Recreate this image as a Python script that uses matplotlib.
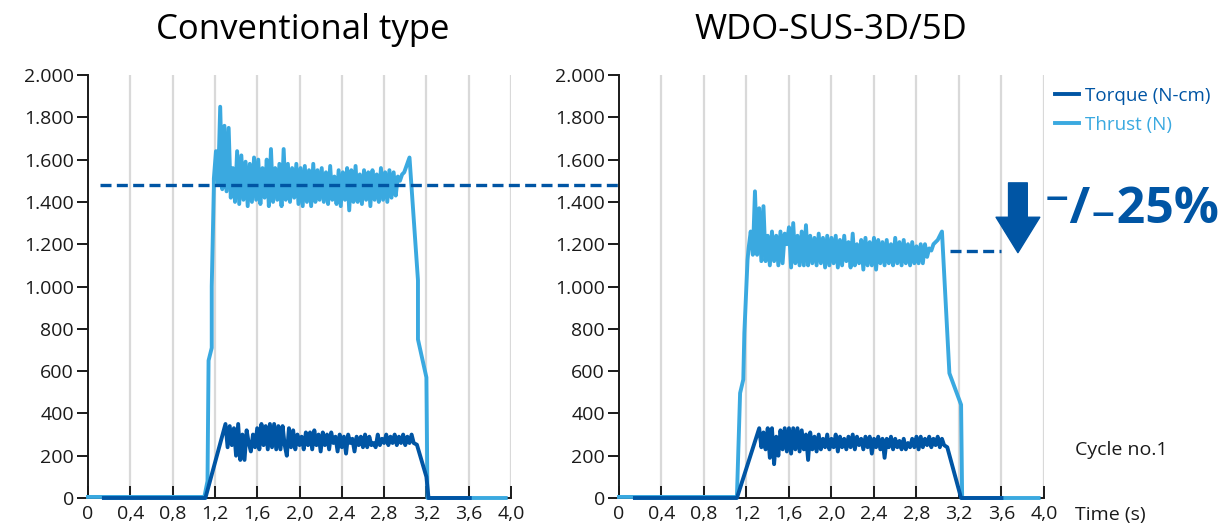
import numpy as np
import matplotlib
matplotlib.use("Agg")
from matplotlib import pyplot as plt
from matplotlib.lines import Line2D

plt.rcParams['font.family'] = ['Open Sans', 'DejaVu Sans']

DARK = '#0055a4'
LIGHT = '#3aa9e0'
GRID = '#d9d9d9'

# x ticks / y ticks
x_ticks = [0, 0.4, 0.8, 1.2, 1.6, 2.0, 2.4, 2.8, 3.2, 3.6, 4.0]
x_labels = ['0', '0,4', '0,8', '1,2', '1,6', '2,0', '2,4', '2,8', '3,2', '3,6', '4,0']
y_ticks = [0, 200, 400, 600, 800, 1000, 1200, 1400, 1600, 1800, 2000]
y_labels = ['0', '200', '400', '600', '800', '1.000', '1.200', '1.400', '1.600', '1.800', '2.000']

# ---- Conventional type ----
conv_thrust_t = [0.0, 1.10, 1.13, 1.14, 1.17, 1.17, 1.19]
conv_thrust_v = [5, 5, 80, 650, 710, 1000, 1470]
conv_thrust_plateau = [
    1510, 1640, 1480, 1850, 1460, 1760, 1450, 1750, 1420, 1560,
    1400, 1640, 1390, 1620, 1410, 1590, 1380, 1580, 1400, 1610,
    1410, 1600, 1390, 1560, 1420, 1600, 1380, 1650, 1400, 1560,
    1410, 1580, 1380, 1650, 1410, 1580, 1400, 1560, 1420, 1580,
    1390, 1560, 1380, 1570, 1400, 1550, 1380, 1580, 1400, 1550,
    1410, 1560, 1400, 1540, 1390, 1570, 1410, 1520, 1390, 1550,
    1380, 1540, 1410, 1560, 1360, 1550, 1400, 1570, 1400, 1530,
    1390, 1550, 1410, 1540, 1380, 1550, 1410, 1530, 1400, 1560,
    1410, 1540, 1400, 1550, 1420, 1540, 1430, 1520, 1500, 1530,
    1540]
conv_thrust_end_t = [3.04, 3.12, 3.12, 3.20, 3.21, 3.95]
conv_thrust_end_v = [1610, 1030, 750, 570, 0, 0]

conv_torque_t = [0.15, 1.11]
conv_torque_v = [0, 0]
conv_torque_plateau = [
    350, 240, 340, 250, 330, 200, 350, 180, 300, 180,
    320, 260, 220, 300, 240, 330, 230, 350, 250, 340,
    230, 350, 240, 350, 230, 340, 230, 340, 250, 200,
    330, 240, 320, 230, 300, 250, 290, 230, 310, 250,
    310, 230, 320, 250, 300, 220, 310, 250, 300, 230,
    310, 260, 290, 220, 300, 240, 290, 210, 300, 260,
    280, 220, 290, 250, 290, 240, 300, 240, 290, 250,
    260, 240, 300, 250, 280, 260, 300, 250, 290, 260,
    300, 250, 290, 260, 300, 250, 290, 260, 300, 260]
conv_torque_end_t = [3.11, 3.20, 3.22, 3.61]
conv_torque_end_v = [252, 100, 0, 0]

# ---- WDO-SUS-3D/5D ----
wdo_thrust_t = [0.0, 1.11, 1.14, 1.17, 1.18, 1.21]
wdo_thrust_v = [5, 5, 496, 560, 780, 1126]
wdo_thrust_plateau = [
    1180, 1260, 1150, 1450, 1150, 1370, 1120, 1380, 1120, 1240,
    1100, 1260, 1120, 1240, 1100, 1260, 1110, 1250, 1200, 1280,
    1090, 1300, 1110, 1240, 1100, 1260, 1100, 1290, 1100, 1240,
    1110, 1230, 1100, 1250, 1110, 1230, 1090, 1240, 1100, 1230,
    1110, 1240, 1090, 1220, 1100, 1240, 1120, 1210, 1090, 1250,
    1100, 1200, 1110, 1220, 1080, 1230, 1100, 1210, 1100, 1230,
    1080, 1220, 1110, 1210, 1100, 1220, 1110, 1200, 1100, 1230,
    1110, 1210, 1100, 1220, 1110, 1200, 1100, 1210, 1110, 1190,
    1110, 1200, 1110, 1200, 1140, 1180, 1170, 1200, 1210, 1220]
wdo_thrust_end_t = [3.04, 3.11, 3.22, 3.23, 3.95]
wdo_thrust_end_v = [1260, 590, 441, 0, 0]

wdo_torque_t = [0.15, 1.11]
wdo_torque_v = [0, 0]
wdo_torque_plateau = [
    330, 240, 310, 230, 330, 190, 330, 160, 290, 200,
    320, 230, 330, 220, 330, 210, 330, 230, 330, 220,
    320, 230, 300, 180, 310, 230, 290, 220, 300, 230,
    280, 240, 300, 230, 280, 240, 300, 220, 290, 240,
    280, 230, 290, 240, 300, 230, 290, 250, 280, 230,
    290, 240, 290, 210, 280, 240, 290, 230, 280, 190,
    280, 240, 290, 230, 280, 240, 270, 230, 280, 230,
    260, 240, 280, 240, 290, 230, 290, 240, 280, 250,
    290, 240, 280, 250, 290, 240, 280, 250]
wdo_torque_end_t = [3.09, 3.22, 3.60]
wdo_torque_end_v = [240, 0, 0]

conv_level = 1480
wdo_level = 1170


def series(t0, v0, start, step, plateau, t1, v1):
    tp = start + step * np.arange(len(plateau))
    return (np.concatenate([t0, tp, t1]), np.concatenate([v0, plateau, v1]))


fig = plt.figure(figsize=(12.24, 5.29), dpi=100)
ax1 = fig.add_axes([0.0719, 0.0586, 0.3456, 0.7996])
ax2 = fig.add_axes([0.5057, 0.0586, 0.3472, 0.7996])

panels = [
    (ax1, series(conv_thrust_t, conv_thrust_v, 1.19, 0.02, conv_thrust_plateau, conv_thrust_end_t, conv_thrust_end_v),
     series(conv_torque_t, conv_torque_v, 1.30, 0.02, conv_torque_plateau, conv_torque_end_t, conv_torque_end_v)),
    (ax2, series(wdo_thrust_t, wdo_thrust_v, 1.22, 0.02, wdo_thrust_plateau, wdo_thrust_end_t, wdo_thrust_end_v),
     series(wdo_torque_t, wdo_torque_v, 1.32, 0.02, wdo_torque_plateau, wdo_torque_end_t, wdo_torque_end_v)),
]

for ax, thrust, torque in panels:
    ax.set_xlim(0, 4.0)
    ax.set_ylim(0, 2000)
    for xt in x_ticks[1:]:
        ax.axvline(xt, color=GRID, lw=1.6, zorder=0)
    ax.plot(thrust[0], thrust[1], color=LIGHT, lw=2.8, clip_on=False, zorder=3, solid_joinstyle='round')
    ax.plot(torque[0], torque[1], color=DARK, lw=2.8, clip_on=False, zorder=4, solid_joinstyle='round')
    ax.set_xticks(x_ticks)
    ax.set_xticklabels(x_labels)
    ax.set_yticks(y_ticks)
    ax.set_yticklabels(y_labels)
    ax.tick_params(axis='x', direction='in', length=9, width=1.4, labelsize=14, pad=5, colors='#1a1a1a')
    ax.tick_params(axis='y', direction='out', length=8, width=1.4, labelsize=14, pad=2, colors='#1a1a1a')
    for s in ['top', 'right']:
        ax.spines[s].set_visible(False)
    for s in ['left', 'bottom']:
        ax.spines[s].set_linewidth(1.4)
        ax.spines[s].set_color('#1a1a1a')

fig.text(0.2475, 0.943, 'Conventional type', ha='center', va='center', fontsize=25)
fig.text(0.679, 0.943, 'WDO-SUS-3D/5D', ha='center', va='center', fontsize=25)

# long dashed reference line across both panels
fig.canvas.draw()
p_end = ax2.transData.transform((3.6, conv_level))
x_end = ax1.transData.inverted().transform(p_end)[0]
ax1.plot([0.11, x_end], [conv_level, conv_level], color=DARK, lw=2.4,
         dashes=(3.3, 1.6), clip_on=False, zorder=5)
ax2.plot([3.12, 3.6], [wdo_level, wdo_level], color=DARK, lw=2.4,
         dashes=(3.3, 1.6), clip_on=False, zorder=5)

ax2.annotate('', xy=(3.755, 1160), xytext=(3.755, 1490),
             arrowprops=dict(arrowstyle='simple,head_length=0.85,head_width=1.05,tail_width=0.45',
                             color=DARK, mutation_scale=30, shrinkA=0, shrinkB=0),
             annotation_clip=False)
fig.text(0.996, 0.603, '⁻/₋25%', ha='right', va='center', fontsize=36,
         fontweight='bold', color=DARK)

legend_handles = [Line2D([], [], color=DARK, lw=2.8), Line2D([], [], color=LIGHT, lw=2.8)]
leg = fig.legend(legend_handles, ['Torque (N-cm)', 'Thrust (N)'], loc='upper left',
                 bbox_to_anchor=(0.848, 0.868), frameon=False, fontsize=13.5,
                 handlelength=1.3, handletextpad=0.3, labelspacing=0.6)
for txt, c in zip(leg.get_texts(), [DARK, LIGHT]):
    txt.set_color(c)

fig.text(0.878, 0.149, 'Cycle no.1', ha='left', va='center', fontsize=14, color='#1a1a1a')
fig.text(0.878, 0.026, 'Time (s)', ha='left', va='center', fontsize=14, color='#1a1a1a')

fig.savefig('out.png', dpi=100)
